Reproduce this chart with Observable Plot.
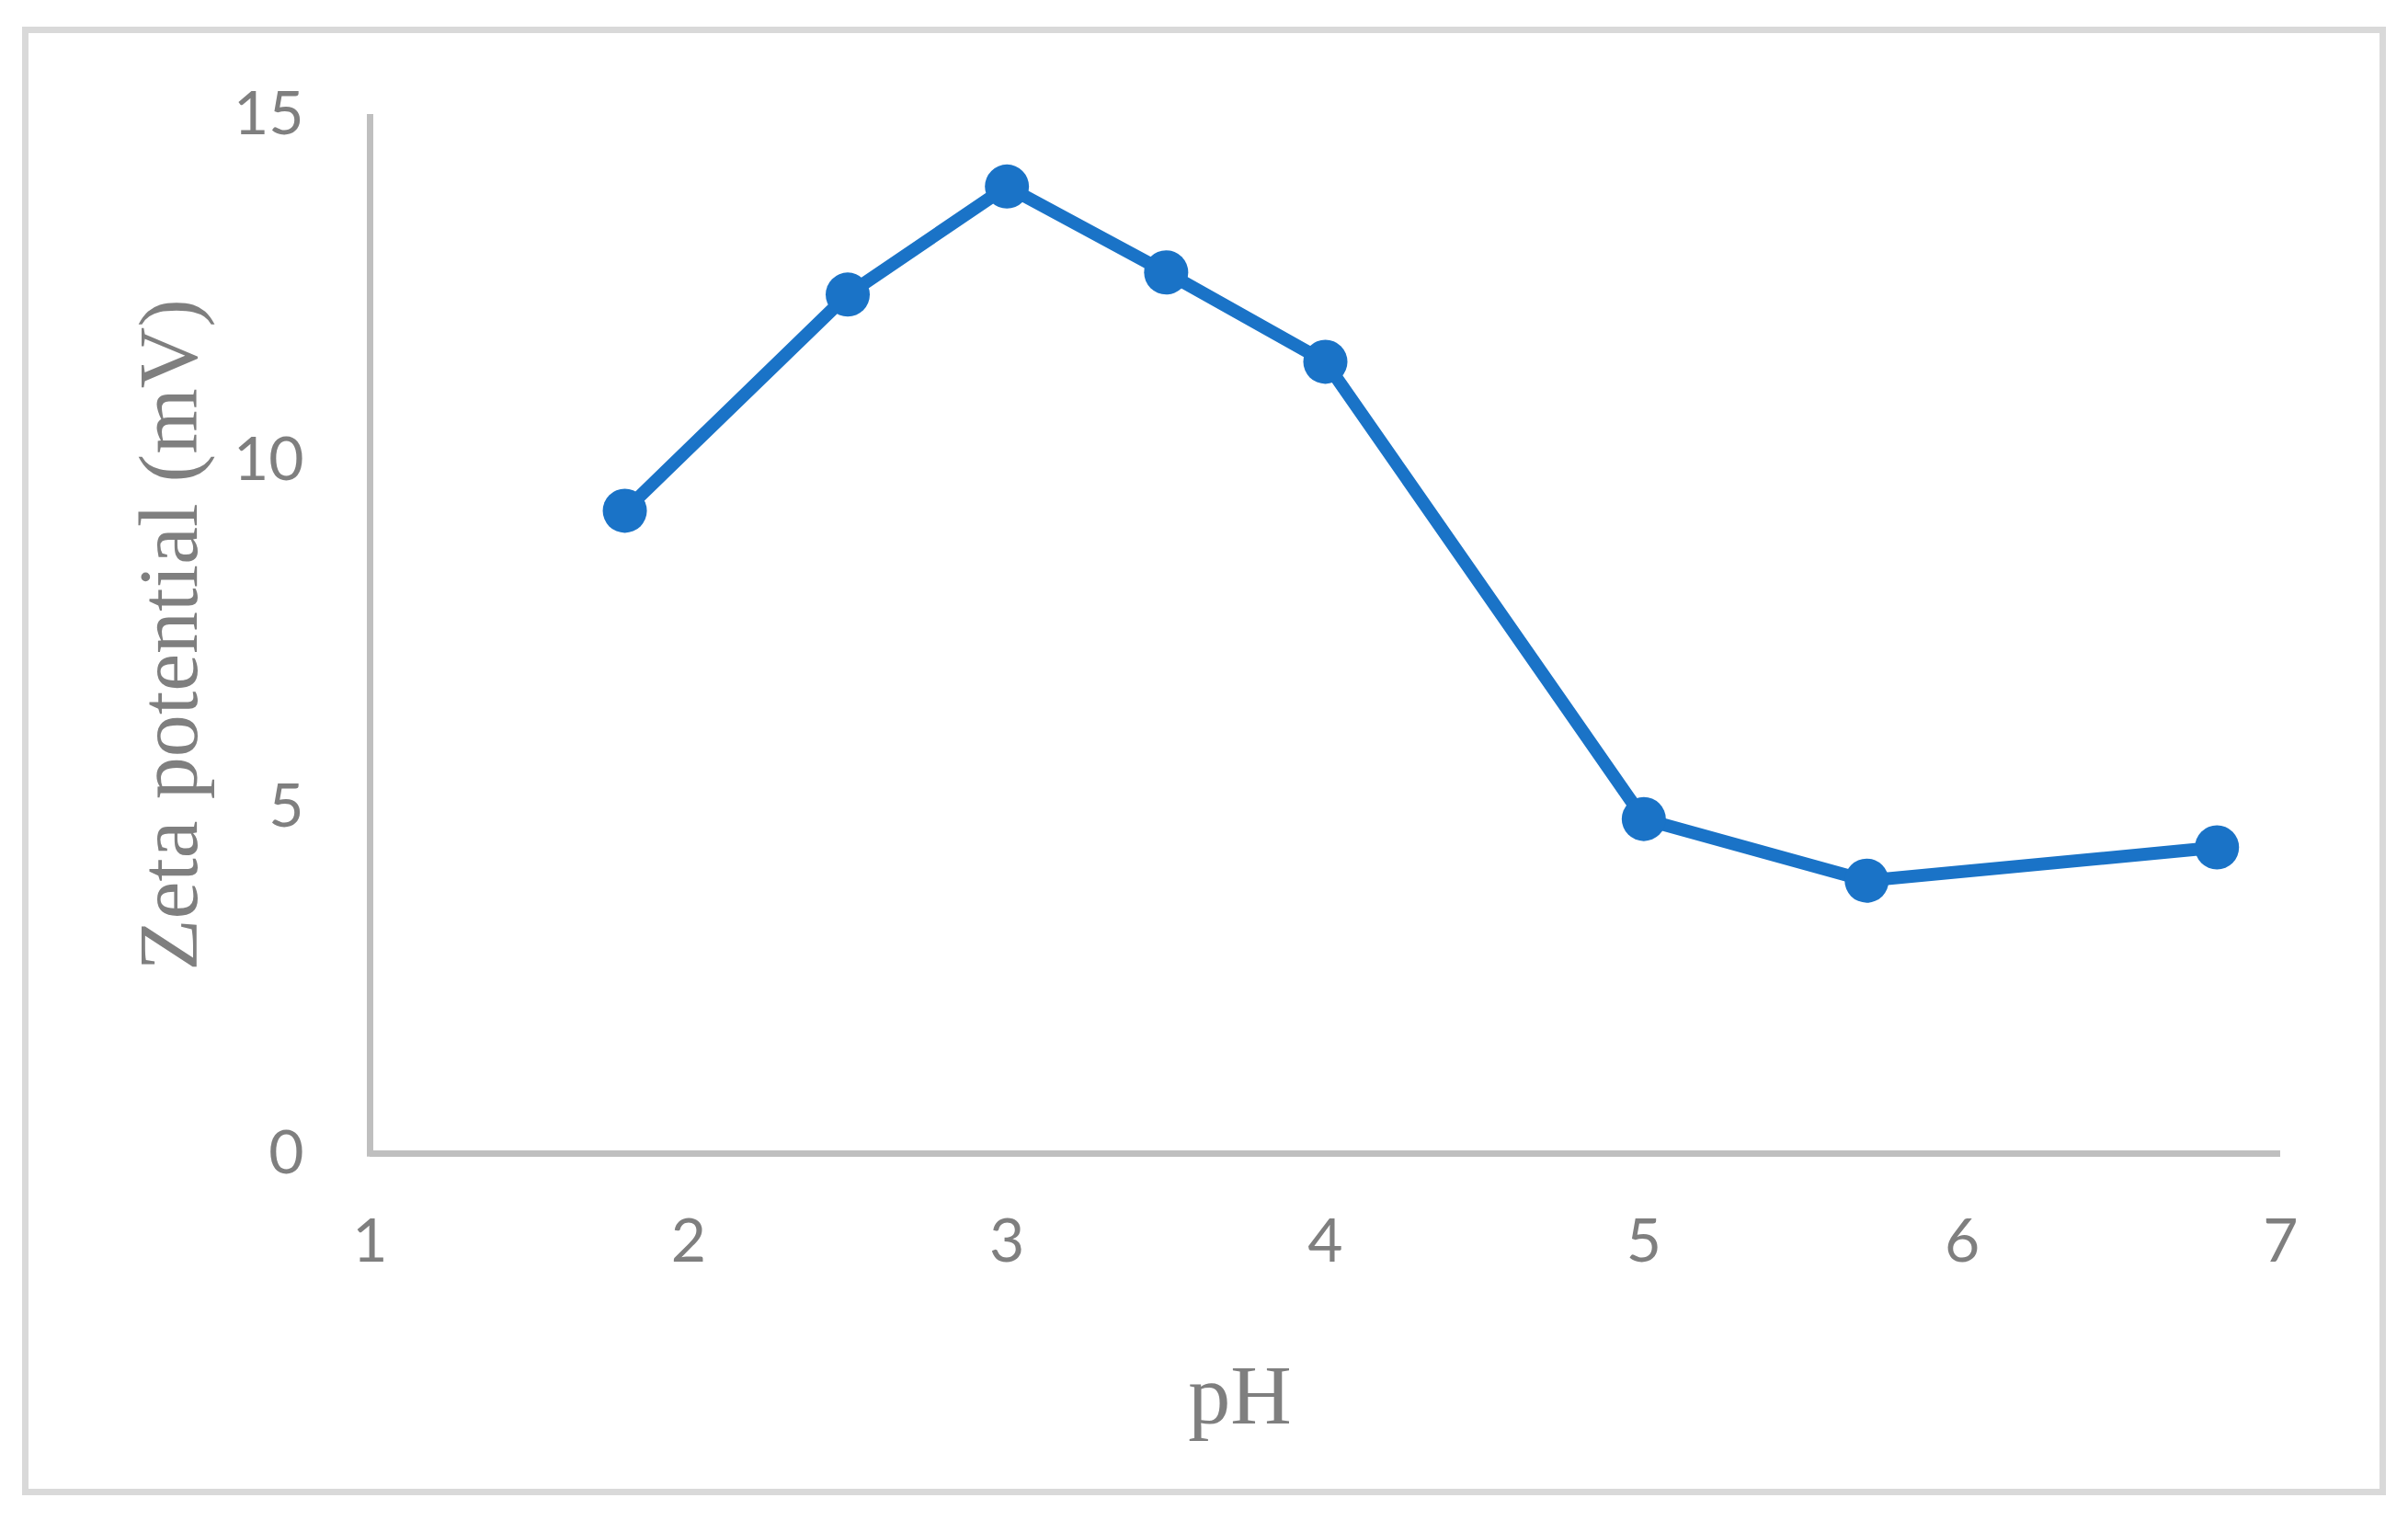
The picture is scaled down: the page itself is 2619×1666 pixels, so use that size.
<!DOCTYPE html>
<html>
<head>
<meta charset="utf-8">
<script src="https://cdn.jsdelivr.net/npm/d3@7"></script>
<script src="https://cdn.jsdelivr.net/npm/@observablehq/plot@0.6"></script>
<style>
  html, body { margin: 0; padding: 0; background: #ffffff; }
  #wrap { position: relative; width: 2619px; height: 1666px; }
  #border { position: absolute; left: 24px; top: 29px; width: 2571px; height: 1597px; border: 7px solid #d9d9d9; box-sizing: border-box; }
  #chart { position: absolute; left: 0; top: 0; }
</style>
</head>
<body>
<div id="wrap"><div id="border"></div><div id="chart"></div></div>
<script>
const ph = [1.8, 2.5, 3, 3.5, 4, 5, 5.7, 6.8];
const zeta = [9.28, 12.4, 13.96, 12.72, 11.43, 4.83, 3.94, 4.42];
const xTicks = [1, 2, 3, 4, 5, 6, 7];
const yTicks = [0, 5, 10, 15];
const xTitle = "pH";
const yTitle = "Zeta potential (mV)";

const data = ph.map((p, i) => ({ph: p, zeta: zeta[i]}));
const blue = "#1a73c7";
const axisGray = "#bfbfbf";
const tickFont = "Lato, 'Liberation Sans', sans-serif";
const titleFont = "'Liberation Serif', 'DejaVu Serif', serif";

const chart = Plot.plot({
  width: 2619,
  height: 1666,
  marginLeft: 402,
  marginRight: 139,
  marginTop: 124,
  marginBottom: 412,
  style: { background: "transparent", color: "#7f7f7f", overflow: "visible" },
  x: { domain: [1, 7] },
  y: { domain: [0, 15] },
  marks: [
    Plot.axisX(xTicks, { tickSize: 0, tickPadding: 71, fontSize: 66, fontFamily: tickFont, label: null, tickFormat: d => String(d) }),
    Plot.axisY(yTicks, { tickSize: 0, tickPadding: 72, fontSize: 66, fontFamily: tickFont, label: null, tickFormat: d => String(d) }),
    Plot.ruleY([0], { stroke: axisGray, strokeWidth: 7, x1: 1, x2: 7 }),
    Plot.ruleX([1], { stroke: axisGray, strokeWidth: 7, y1: -0.05, y2: 15 }),
    Plot.line(data, { x: "ph", y: "zeta", stroke: blue, strokeWidth: 14, strokeLinejoin: "round" }),
    Plot.dot(data, { x: "ph", y: "zeta", r: 24, fill: blue, stroke: "none" }),
    Plot.text([xTitle], { frameAnchor: "bottom", text: d => d, textAnchor: "middle", dx: -93, dy: 228, lineAnchor: "top", fontSize: 92, fontFamily: titleFont, fill: "#7f7f7f" }),
    Plot.text([yTitle], { frameAnchor: "left", text: d => d, textAnchor: "middle", rotate: -90, dx: -254, dy: 1, lineAnchor: "top", fontSize: 92, fontFamily: titleFont, fill: "#7f7f7f" })
  ]
});
document.getElementById("chart").appendChild(chart);
</script>
</body>
</html>
